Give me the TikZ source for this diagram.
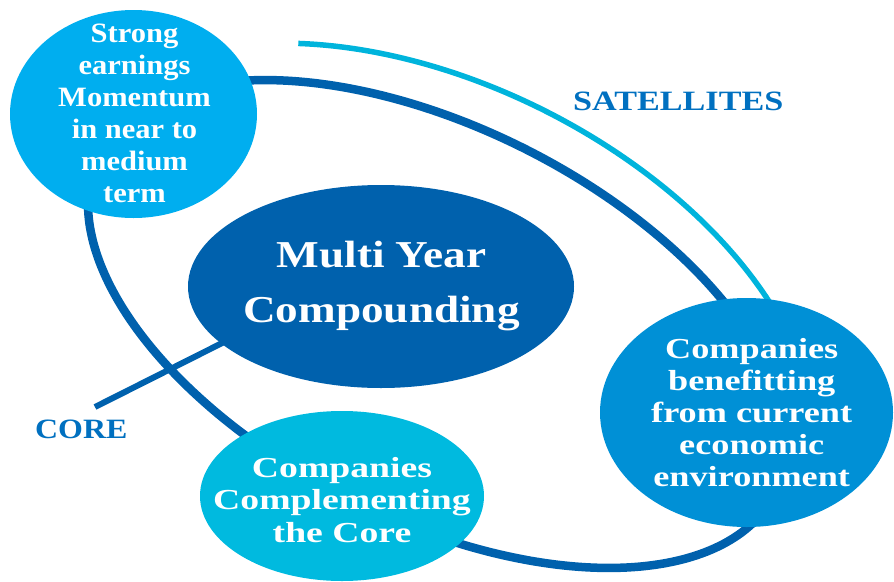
\documentclass[tikz,border=0pt]{standalone}
\usepackage{fontspec}
\setmainfont{Liberation Serif}
\newfontfamily\fTL{Liberation Serif}[FakeStretch=1.09]
\newfontfamily\fMY{Liberation Serif}[FakeStretch=1.19]
\newfontfamily\fRT{Liberation Serif}[FakeStretch=1.25]
\newfontfamily\fBT{Liberation Serif}[FakeStretch=1.30]
\newfontfamily\fSAT{Liberation Serif}[FakeStretch=1.22]
\newfontfamily\fCORE{Liberation Serif}[FakeStretch=1.14]
\usetikzlibrary{shapes.geometric}
\definecolor{skyblue}{HTML}{00AEEF}
\definecolor{darkblue}{HTML}{0061AD}
\definecolor{midblue}{HTML}{0090D6}
\definecolor{cyanblue}{HTML}{00BADF}
\definecolor{arccyan}{HTML}{00B4DC}
\definecolor{labelblue}{HTML}{0070C0}
\begin{document}
\begin{tikzpicture}[x=1pt,y=-1pt,
  blob/.style={ellipse, inner sep=0pt, draw=none},
  btext/.style={text=white, align=center, inner sep=0pt},
  orbit/.style={draw=darkblue, line width=8.5pt},
  satarc/.style={draw=arccyan, line width=5.5pt},
  coreline/.style={draw=darkblue, line width=6pt},
  tag/.style={text=labelblue, inner sep=0pt, anchor=base west}]
\useasboundingbox (0,0) rectangle (894,581);
% orbit (core ring)
\draw[orbit] plot[domain=0:357.5, samples=144, smooth cycle]
  ({437+378*cos(\x)*0.8934-196*sin(\x)*0.4493},{324+378*cos(\x)*0.4493+196*sin(\x)*0.8934});
% satellites arc
\draw[satarc] plot[domain=-128:-44, samples=60, smooth]
  ({437+406*cos(\x)*0.8934-239*sin(\x)*0.4493},{324+406*cos(\x)*0.4493+239*sin(\x)*0.8934});
% core pointer
\coordinate (corefree) at (95,407);
\coordinate (corein) at (240,334);
\draw[coreline] (corefree) -- (corein);
% ellipses
\node[blob, fill=skyblue, minimum width=247pt, minimum height=208pt] (strong) at (133.5,114) {};
\node[blob, fill=darkblue, minimum width=386pt, minimum height=203pt] (multi) at (381,286.5) {};
\node[blob, fill=midblue, minimum width=293pt, minimum height=229pt] (benefit) at (746.5,412.5) {};
\node[blob, fill=cyanblue, minimum width=284pt, minimum height=170pt] (compl) at (342,496) {};
% texts
\node[btext, font=\fTL\bfseries\fontsize{28}{32}\selectfont] (strongtxt) at (134.5,113.5)
  {Strong\\earnings\\Momentum\\in near to\\medium\\term};
\node[btext, font=\fMY\bfseries\fontsize{38}{55}\selectfont] (multitxt) at (381.5,286.5)
  {Multi Year\\Compounding};
\node[btext, font=\fRT\bfseries\fontsize{29}{32.2}\selectfont] (benefittxt) at (751.7,412.5)
  {Companies\\benefitting\\from current\\economic\\environment};
\node[btext, font=\fBT\bfseries\fontsize{29}{32.5}\selectfont] (compltxt) at (342,499.7)
  {Companies\\Complementing\\the Core};
\node[tag, font=\fSAT\bfseries\fontsize{28}{32}\selectfont] (sat) at (573,110) {SATELLITES};
\node[tag, font=\fCORE\bfseries\fontsize{28}{32}\selectfont] (core) at (35,438) {CORE};
\end{tikzpicture}
\end{document}
